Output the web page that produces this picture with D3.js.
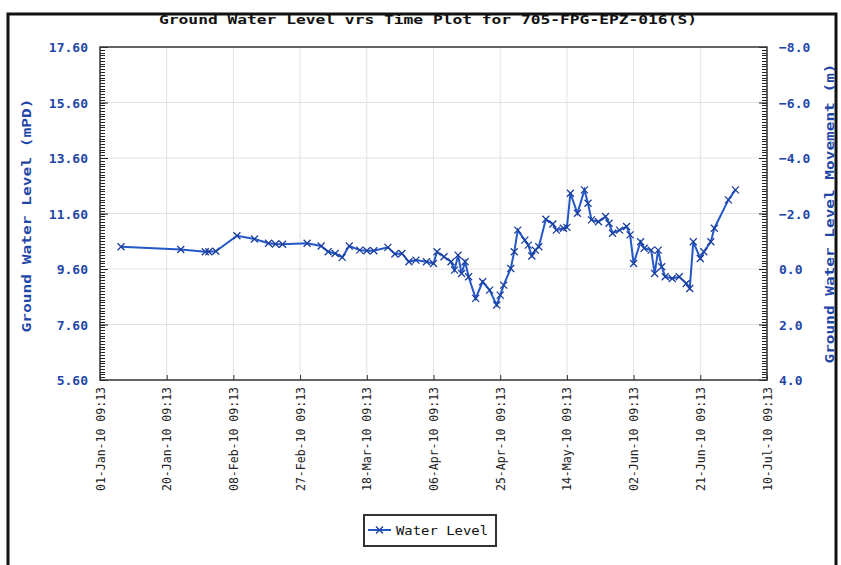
<!DOCTYPE html>
<html>
<head>
<meta charset="utf-8">
<script src="https://cdn.jsdelivr.net/npm/d3@7"></script>
<style>
html,body{margin:0;padding:0;background:#fff;}
svg{display:block;}
</style>
</head>
<body>
<svg id="chart" width="841" height="565"></svg>
<script>
// ---- Data ----
const titleText = "Ground Water Level vrs Time Plot for 705-FPG-EPZ-016(S)";
const leftAxisTitle = "Ground Water Level (mPD)";
const rightAxisTitle = "Ground Water Level Movement (m)";
const seriesName = "Water Level";

const dates = [
  "2010-01-07","2010-01-24","2010-01-31","2010-02-01","2010-02-03","2010-02-09","2010-02-14","2010-02-18",
  "2010-02-20","2010-02-22","2010-03-01","2010-03-05","2010-03-07","2010-03-09","2010-03-11","2010-03-13",
  "2010-03-16","2010-03-18","2010-03-20","2010-03-24","2010-03-26","2010-03-28","2010-03-30","2010-04-01",
  "2010-04-04","2010-04-06","2010-04-07","2010-04-09","2010-04-11","2010-04-12","2010-04-13","2010-04-14",
  "2010-04-15","2010-04-16","2010-04-18","2010-04-20","2010-04-22","2010-04-24","2010-04-25","2010-04-26",
  "2010-04-28","2010-04-29","2010-04-30","2010-05-02","2010-05-03","2010-05-04","2010-05-05","2010-05-06",
  "2010-05-08","2010-05-10","2010-05-11","2010-05-13","2010-05-14","2010-05-15","2010-05-17","2010-05-19",
  "2010-05-20","2010-05-21","2010-05-23","2010-05-25","2010-05-26","2010-05-27","2010-05-29","2010-05-31",
  "2010-06-01","2010-06-02","2010-06-04","2010-06-05","2010-06-07","2010-06-08","2010-06-09","2010-06-10",
  "2010-06-11","2010-06-13","2010-06-15","2010-06-17","2010-06-18","2010-06-19","2010-06-21","2010-06-22",
  "2010-06-24","2010-06-25","2010-06-29","2010-07-01"
];
const levels = [
  10.40,10.30,10.22,10.22,10.24,10.80,10.68,10.53,
  10.50,10.49,10.53,10.43,10.22,10.16,10.02,10.43,
  10.28,10.26,10.26,10.38,10.14,10.16,9.86,9.92,
  9.86,9.80,10.22,10.04,9.86,9.56,10.10,9.44,
  9.86,9.32,8.54,9.14,8.84,8.30,8.66,9.02,
  9.62,10.22,11.00,10.64,10.46,10.07,10.28,10.40,
  11.39,11.22,11.00,11.07,11.10,12.33,11.61,12.45,
  11.97,11.37,11.30,11.49,11.25,10.89,11.00,11.13,
  10.83,9.80,10.58,10.35,10.28,9.44,10.28,9.68,
  9.32,9.26,9.32,9.08,8.90,10.58,9.98,10.22,
  10.58,11.07,12.09,12.45
];

const xTickDates = ["2010-01-01","2010-01-20","2010-02-08","2010-02-27","2010-03-18","2010-04-06",
                    "2010-04-25","2010-05-14","2010-06-02","2010-06-21","2010-07-10"];
const leftTicks = [5.6, 7.6, 9.6, 11.6, 13.6, 15.6, 17.6];
const rightTicks = [-8, -6, -4, -2, 0, 2, 4];

// ---- Layout ----
const svg = d3.select("#chart");
const L = 100, R = 767, T = 47, B = 380;
const blue = "#1f47a8";
const lineBlue = "#2457c8";
const monoFont = "'DejaVu Sans Mono', 'Liberation Mono', monospace";

const parse = d3.timeParse("%Y-%m-%d %H:%M");
const data = dates.map((d, i) => ({ t: parse(d + " 09:13"), v: levels[i] }));
const xTicks = xTickDates.map(d => parse(d + " 09:13"));

const x = d3.scaleTime().domain([xTicks[0], xTicks[xTicks.length - 1]]).range([L, R]);
const y = d3.scaleLinear().domain([5.6, 17.6]).range([B, T]);
const y2 = d3.scaleLinear().domain([4, -8]).range([B, T]);

// outer frame
svg.append("rect").attr("x", 8).attr("y", 14).attr("width", 828).attr("height", 570)
  .attr("fill", "none").attr("stroke", "#111").attr("stroke-width", 3);

// title
svg.append("text").attr("x", 428).attr("y", 24).attr("text-anchor", "middle")
  .attr("font-family", monoFont).attr("font-weight", "bold").attr("font-size", 13)
  .attr("textLength", 538).attr("lengthAdjust", "spacingAndGlyphs")
  .attr("fill", "#111").text(titleText);

// gridlines
const grid = svg.append("g").attr("stroke", "#e2e2e2").attr("stroke-width", 1);
grid.selectAll("line.v").data(xTicks.slice(1, -1)).join("line")
  .attr("x1", d => x(d)).attr("x2", d => x(d)).attr("y1", T).attr("y2", B);
grid.selectAll("line.h").data(leftTicks.slice(1, -1)).join("line")
  .attr("x1", L).attr("x2", R).attr("y1", d => y(d)).attr("y2", d => y(d));

// minor ticks (inside plot), drawn as crisp lines
const minor = d3.range(0, 121).map(i => 5.6 + i * 0.1);
const minor2 = d3.range(0, 121).map(i => -8 + i * 0.1);
svg.append("g").selectAll("line").data(minor).join("line")
  .attr("x1", L).attr("x2", L + 5)
  .attr("y1", d => Math.round(y(d)) + 0.5).attr("y2", d => Math.round(y(d)) + 0.5)
  .attr("stroke", "#222").attr("stroke-width", 1);
svg.append("g").selectAll("line").data(minor2).join("line")
  .attr("x1", R - 5).attr("x2", R)
  .attr("y1", d => Math.round(y2(d)) + 0.5).attr("y2", d => Math.round(y2(d)) + 0.5)
  .attr("stroke", "#222").attr("stroke-width", 1);

// left axis
const gl = svg.append("g").attr("transform", `translate(${L},0)`)
  .call(d3.axisLeft(y).tickValues(leftTicks).tickSize(-8).tickPadding(12).tickFormat(d3.format(".2f")));
gl.select(".domain").remove();
gl.selectAll("line").attr("stroke", "#222");
gl.selectAll("text").attr("fill", blue).attr("font-family", monoFont).attr("font-weight", "bold")
  .attr("font-size", 13).attr("dy", "0.35em");

// right axis
const gr = svg.append("g").attr("transform", `translate(${R},0)`)
  .call(d3.axisRight(y2).tickValues(rightTicks).tickSize(-8).tickPadding(12).tickFormat(d3.format(".1f")));
gr.select(".domain").remove();
gr.selectAll("line").attr("stroke", "#222");
gr.selectAll("text").attr("fill", blue).attr("font-family", monoFont).attr("font-weight", "bold")
  .attr("font-size", 13).attr("dy", "0.35em");

// bottom axis
const fmt = d3.timeFormat("%d-%b-%y %H:%M");
const gb = svg.append("g").attr("transform", `translate(0,${B})`)
  .call(d3.axisBottom(x).tickValues(xTicks).tickSize(-5).tickPadding(6).tickFormat(fmt));
gb.select(".domain").remove();
gb.selectAll("line").attr("stroke", "#333");
gb.selectAll("text").attr("fill", "#222").attr("font-family", monoFont).attr("font-size", 11.5)
  .attr("text-anchor", "end").attr("transform", "rotate(-90)")
  .attr("x", -7).attr("y", 0).attr("dy", "0.35em")
  .attr("textLength", 104).attr("lengthAdjust", "spacingAndGlyphs");

// plot border
svg.append("rect").attr("x", L).attr("y", T).attr("width", R - L).attr("height", B - T)
  .attr("fill", "none").attr("stroke", "#333").attr("stroke-width", 1.5);

// axis titles
svg.append("text").attr("transform", `translate(31,${(T + B) / 2 + 2}) rotate(-90)`)
  .attr("text-anchor", "middle").attr("font-family", monoFont).attr("font-weight", "bold")
  .attr("font-size", 13).attr("textLength", 234).attr("lengthAdjust", "spacingAndGlyphs")
  .attr("fill", blue).text(leftAxisTitle);
svg.append("text").attr("transform", `translate(834,${(T + B) / 2 }) rotate(-90)`)
  .attr("text-anchor", "middle").attr("font-family", monoFont).attr("font-weight", "bold")
  .attr("font-size", 13).attr("textLength", 300).attr("lengthAdjust", "spacingAndGlyphs")
  .attr("fill", blue).text(rightAxisTitle);

// series line
const line = d3.line().x(d => x(d.t)).y(d => y(d.v));
svg.append("path").datum(data).attr("d", line).attr("fill", "none")
  .attr("stroke", lineBlue).attr("stroke-width", 2);

// markers (X shapes)
const ms = 3.5;
const cross = `M${-ms},${-ms}L${ms},${ms}M${-ms},${ms}L${ms},${-ms}`;
svg.append("g").selectAll("path").data(data).join("path")
  .attr("transform", d => `translate(${x(d.t)},${y(d.v)})`)
  .attr("d", cross).attr("stroke", "#1b3f9e").attr("stroke-width", 1.3).attr("fill", "none");

// legend
const lg = svg.append("g");
lg.append("rect").attr("x", 364).attr("y", 515).attr("width", 132).attr("height", 31)
  .attr("fill", "#fff").attr("stroke", "#333").attr("stroke-width", 2);
lg.append("line").attr("x1", 368).attr("x2", 391).attr("y1", 530).attr("y2", 530)
  .attr("stroke", lineBlue).attr("stroke-width", 2);
lg.append("path").attr("transform", "translate(379.5,530)").attr("d", cross)
  .attr("stroke", "#1b3f9e").attr("stroke-width", 1.3).attr("fill", "none");
lg.append("text").attr("x", 396).attr("y", 530).attr("dy", "0.35em")
  .attr("font-family", monoFont).attr("font-size", 13).attr("fill", "#111")
  .attr("textLength", 92).attr("lengthAdjust", "spacingAndGlyphs").text(seriesName);
</script>
</body>
</html>
